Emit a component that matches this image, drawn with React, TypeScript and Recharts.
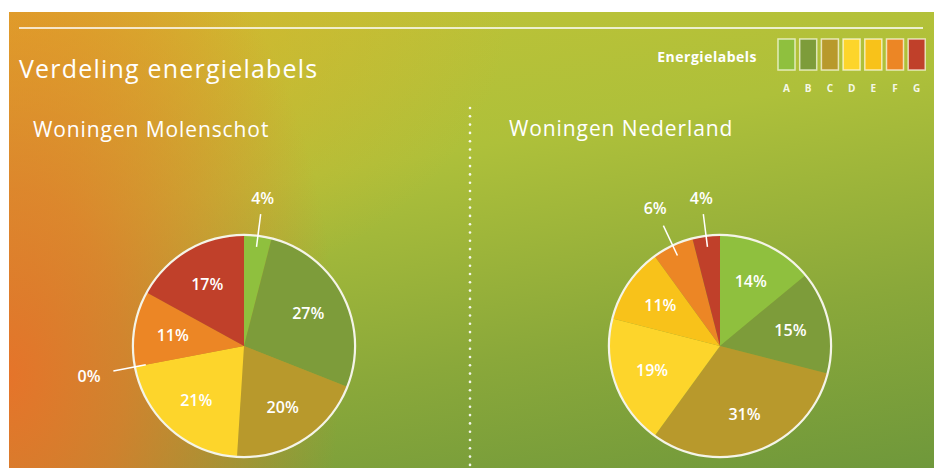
import React from 'react';
import { PieChart, Pie, Cell } from 'recharts';

const labels = ['A', 'B', 'C', 'D', 'E', 'F', 'G'];
const labelColors = ['#8fc03e', '#7d9c3a', '#b8992c', '#fdd52b', '#f8c21a', '#ec8625', '#c0402a'];
const molenschot = [4, 27, 20, 21, 0, 11, 17];
const nederland = [14, 15, 31, 19, 11, 6, 4];

const RAD = Math.PI / 180;
const R = 111;
const FONT = '"Open Sans", "DejaVu Sans", sans-serif';

const toRows = (values: number[]) =>
  values.map((v, i) => ({ name: labels[i], value: v }));

const ring = [{ name: 'ring', value: 1 }];

const polar = (cx: number, cy: number, r: number, angle: number) => ({
  x: cx + r * Math.cos(-angle * RAD),
  y: cy + r * Math.sin(-angle * RAD),
});

// inside labels for big slices, outside with a leader line for small ones
const renderLabel = (props: any) => {
  const { cx, cy, midAngle, value, index } = props;
  const small = value < 7;
  if (!small) {
    const p = polar(cx, cy, R * 0.65, midAngle);
    return (
      <text
        key={index}
        x={p.x}
        y={p.y}
        fill="#fff"
        fontSize={16}
        fontWeight={600}
        fontFamily={FONT}
        textAnchor="middle"
        dominantBaseline="central"
      >
        {value}%
      </text>
    );
  }
  const a = polar(cx, cy, 100, midAngle);
  const b = polar(cx, cy, 133, midAngle);
  const side = Math.abs(Math.cos(midAngle * RAD));
  const t = polar(cx, cy, 148 + side * 10, midAngle);
  return (
    <g key={index}>
      <line x1={a.x} y1={a.y} x2={b.x} y2={b.y} stroke="#fff" strokeWidth={1.5} />
      <text
        x={t.x}
        y={t.y}
        fill="#fff"
        fontSize={16}
        fontWeight={600}
        fontFamily={FONT}
        textAnchor="middle"
        dominantBaseline="central"
      >
        {value}%
      </text>
    </g>
  );
};

const background = [
  'radial-gradient(ellipse 330px 540px at 0% 80%, rgba(229,116,42,1) 0%, rgba(229,118,42,0.75) 35%, rgba(222,130,42,0) 100%)',
  'radial-gradient(ellipse 500px 320px at 0% 0%, rgba(222,176,42,0.95) 0%, rgba(222,176,42,0) 100%)',
  'linear-gradient(170deg, #c2c336 0%, #aec03a 35%, #8aa83a 70%, #6f983b 100%)',
].join(', ');

export default function App() {
  const left = { cx: 235, cy: 334 };
  const right = { cx: 711, cy: 334 };
  const dots = Array.from({ length: 44 }, (_, i) => 108 + i * 8.3);

  return (
    <div style={{ position: 'fixed', left: 0, top: 0, width: 934, height: 468, background: '#fff' }}>
      <div
        style={{
          position: 'absolute',
          left: 9,
          top: 12,
          width: 925,
          height: 456,
          background,
        }}
      >
        <PieChart width={925} height={456} margin={{ top: 0, right: 0, bottom: 0, left: 0 }}>
          {[
            { pos: left, values: molenschot },
            { pos: right, values: nederland },
          ].map(({ pos, values }, k) => (
            <Pie
              key={`p${k}`}
              data={toRows(values)}
              dataKey="value"
              cx={pos.cx}
              cy={pos.cy}
              outerRadius={R}
              startAngle={90}
              endAngle={-270}
              stroke="none"
              label={renderLabel}
              labelLine={false}
              isAnimationActive={false}
            >
              {values.map((_, i) => (
                <Cell key={i} fill={labelColors[i]} />
              ))}
            </Pie>
          ))}
          {[left, right].map((pos, k) => (
            <Pie
              key={`r${k}`}
              data={ring}
              dataKey="value"
              cx={pos.cx}
              cy={pos.cy}
              innerRadius={R - 1}
              outerRadius={R + 1.2}
              startAngle={90}
              endAngle={-270}
              fill="#f4f4e8"
              stroke="none"
              isAnimationActive={false}
            />
          ))}
        </PieChart>
      </div>
      <svg
        width={934}
        height={468}
        style={{ position: 'absolute', left: 0, top: 0, pointerEvents: 'none' }}
      >
        <line x1={19} y1={28} x2={923} y2={28} stroke="rgba(255,255,255,0.75)" strokeWidth={2} />
        <text x={19} y={78} fill="#fff" fontSize={25} letterSpacing={1.2} fontFamily={FONT}>
          Verdeling energielabels
        </text>
        <text x={33} y={137} fill="#fff" fontSize={21} letterSpacing={0.9} fontFamily={FONT}>
          Woningen Molenschot
        </text>
        <text x={509} y={136} fill="#fff" fontSize={21} letterSpacing={0.9} fontFamily={FONT}>
          Woningen Nederland
        </text>
        {dots.map((y, i) => (
          <circle key={i} cx={470} cy={y} r={1.3} fill="rgba(255,255,255,0.9)" />
        ))}
        <text
          x={757}
          y={62}
          fill="#fff"
          fontSize={14}
          fontWeight={700}
          letterSpacing={0.5}
          fontFamily={FONT}
          textAnchor="end"
        >
          Energielabels
        </text>
        {labels.map((l, i) => {
          const x = 778 + i * 21.7;
          return (
            <g key={l}>
              <rect
                x={x}
                y={39}
                width={17}
                height={31}
                fill={labelColors[i]}
                stroke="rgba(255,255,240,0.7)"
                strokeWidth={1.5}
              />
              <text
                x={x + 8.5}
                y={92}
                fill="rgba(255,255,255,0.9)"
                fontSize={10}
                fontWeight={700}
                fontFamily={FONT}
                textAnchor="middle"
              >
                {l}
              </text>
            </g>
          );
        })}
      </svg>
    </div>
  );
}
